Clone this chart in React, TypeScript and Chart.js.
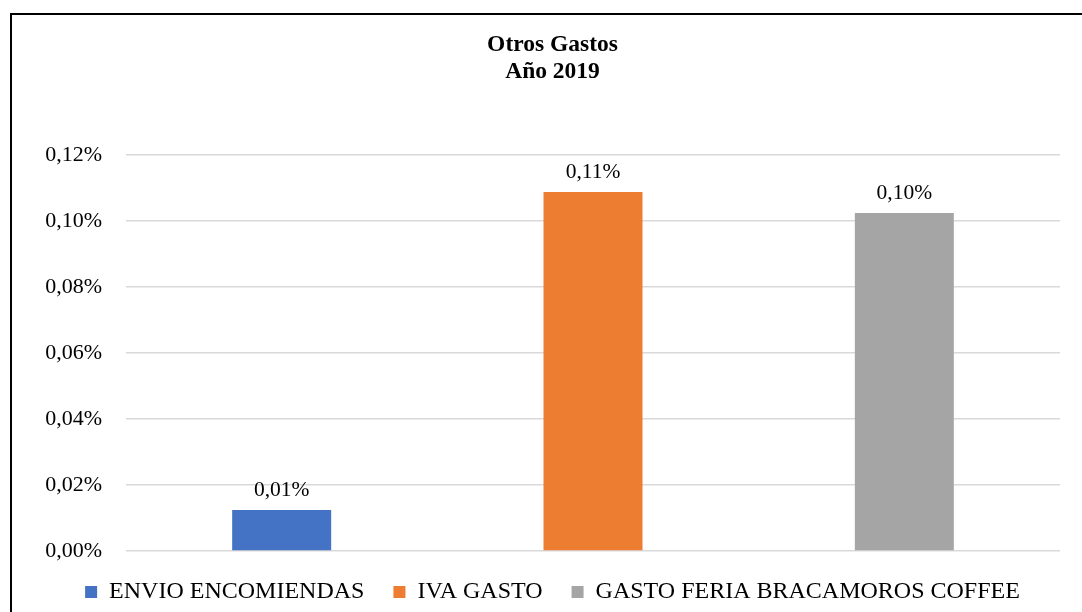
import React, { useEffect, useRef } from "react";
import { Chart, registerables } from "chart.js";

Chart.register(...registerables);

const categories = ["ENVIO ENCOMIENDAS", "IVA GASTO", "GASTO FERIA BRACAMOROS COFFEE"];
const values = [0.0124, 0.1088, 0.1024];
const yTicks = [0, 0.02, 0.04, 0.06, 0.08, 0.1, 0.12];
const titleLines = ["Otros Gastos", "Año 2019"];

const barColors = ["#4472C4", "#ED7D31", "#A5A5A5"];
const FONT = "'Liberation Serif', 'Times New Roman', serif";

const fmt = (v: number) => v.toFixed(2).replace(".", ",") + "%";

const dataLabels = {
  id: "dataLabels",
  afterDatasetsDraw(chart: any) {
    const ctx = chart.ctx;
    const meta = chart.getDatasetMeta(0);
    ctx.save();
    ctx.font = `21.5px ${FONT}`;
    ctx.fillStyle = "#000";
    ctx.textAlign = "center";
    ctx.textBaseline = "alphabetic";
    meta.data.forEach((bar: any, i: number) => {
      ctx.fillText(fmt(values[i]), bar.x, bar.y - 14);
    });
    ctx.restore();
  },
};

export default function App() {
  const ref = useRef<HTMLCanvasElement | null>(null);

  useEffect(() => {
    if (!ref.current) return;
    const chart = new Chart(ref.current, {
      type: "bar",
      data: {
        labels: categories,
        datasets: [
          {
            data: values,
            backgroundColor: barColors,
            borderWidth: 0,
            barPercentage: 0.318,
            categoryPercentage: 1,
          },
        ],
      },
      options: {
        responsive: false,
        animation: false,
        devicePixelRatio: 1,
        layout: { padding: { left: 33, right: 34, top: 0, bottom: 4 } },
        plugins: {
          title: {
            display: true,
            text: titleLines,
            color: "#000",
            font: { family: FONT, size: 23.5, weight: "bold", lineHeight: 1.15 },
            padding: { top: 16, bottom: 70 },
          },
          legend: {
            display: true,
            position: "bottom",
            labels: {
              color: "#000",
              font: { family: FONT, size: 24 },
              boxWidth: 12,
              boxHeight: 12,
              padding: 29,
              generateLabels: () =>
                categories.map((c, i) => ({
                  text: c,
                  fillStyle: barColors[i],
                  strokeStyle: barColors[i],
                  lineWidth: 0,
                  hidden: false,
                  index: i,
                  fontColor: "#000",
                })),
            },
            onClick: () => {},
          },
          tooltip: { enabled: false },
        },
        scales: {
          x: { display: false },
          y: {
            min: 0,
            max: 0.12,
            afterFit: (axis: any) => {
              axis.width = 81;
            },
            afterBuildTicks: (axis: any) => {
              axis.ticks = yTicks.map((v) => ({ value: v }));
            },
            ticks: {
              color: "#000",
              font: { family: FONT, size: 22 },
              padding: 24,
              callback: (v: any) => fmt(Number(v)),
            },
            grid: { color: "#d9d9d9", lineWidth: 1.5, drawTicks: false },
            border: { display: false },
          },
        },
      },
      plugins: [dataLabels],
    });
    return () => chart.destroy();
  }, []);

  return (
    <div style={{ position: "fixed", inset: 0, overflow: "hidden", background: "#fff" }}>
      <div
        style={{
          position: "absolute",
          left: 10,
          top: 13,
          width: 1086,
          height: 620,
          border: "2px solid #000",
          boxSizing: "border-box",
        }}
      >
        <canvas ref={ref} width={1082} height={603} style={{ display: "block" }} />
      </div>
    </div>
  );
}
